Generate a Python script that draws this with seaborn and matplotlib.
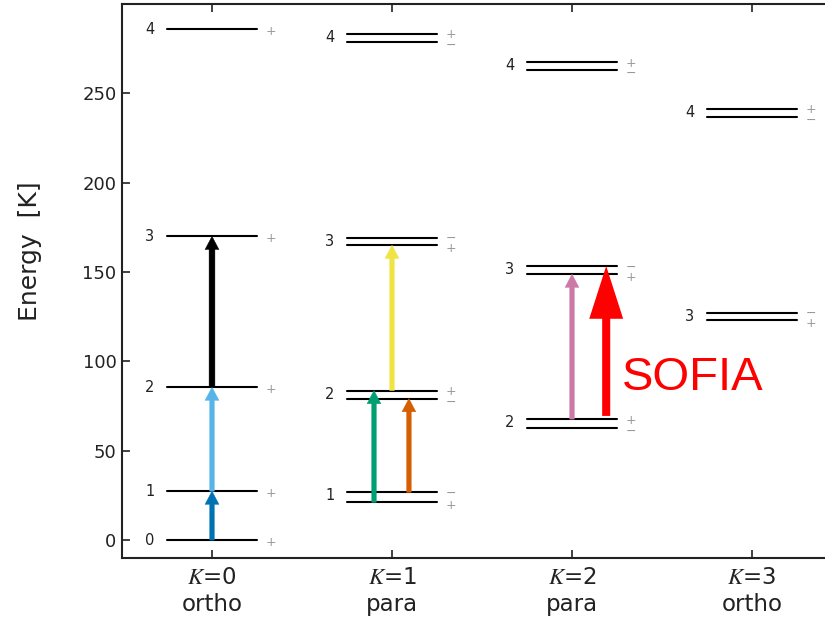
import matplotlib
matplotlib.use("Agg")
import matplotlib.pyplot as plt
import pandas as pd
import seaborn as sns

# NH3 rotational ladders: energy above ground state in K
ladder_K = [0, 1, 2, 3]
ladder_names = ["ortho", "para", "para", "ortho"]

# K = 0 has a single inversion state per J
k0_J = [0, 1, 2, 3, 4]
k0_E = [0.0, 27.4, 85.6, 170.0, 285.8]
k0_sign = ["+", "+", "+", "+", "+"]

# K > 0 ladders are inversion doublets (upper / lower)
k1_J = [1, 2, 3, 4]
k1_upper = [26.7, 83.7, 169.3, 283.4]
k1_lower = [21.1, 79.2, 165.0, 279.0]
k1_sign_upper = ["−", "+", "−", "+"]
k1_sign_lower = ["+", "−", "+", "−"]

k2_J = [2, 3, 4]
k2_upper = [67.7, 153.4, 267.5]
k2_lower = [63.0, 148.8, 263.0]
k2_sign_upper = ["+", "−", "+"]
k2_sign_lower = ["−", "+", "−"]

k3_J = [3, 4]
k3_upper = [127.3, 241.4]
k3_lower = [123.0, 237.0]
k3_sign_upper = ["−", "+"]
k3_sign_lower = ["+", "−"]

# Transitions: ladder, (J, state) of lower and upper level
trans_K = [0, 0, 0, 1, 1, 1, 2]
trans_lo = [(0, "s"), (1, "s"), (2, "s"), (1, "l"), (1, "u"), (2, "u"), (2, "u")]
trans_hi = [(1, "s"), (2, "s"), (3, "s"), (2, "u"), (2, "l"), (3, "l"), (3, "l")]
trans_colors = ["#0072B2", "#56B4E9", "#000000", "#009E73", "#D55E00", "#F0E442", "#CC79A7"]

# Line observed with SOFIA
sofia_K = 2
sofia_lo = (2, "u")
sofia_hi = (3, "u")

# ---- assemble level table -------------------------------------------------
rows = []
for J, E, s in zip(k0_J, k0_E, k0_sign):
    rows.append(dict(K=0, J=J, state="s", E=E, sign=s))
for K, Js, up, lo, su, sl in [
    (1, k1_J, k1_upper, k1_lower, k1_sign_upper, k1_sign_lower),
    (2, k2_J, k2_upper, k2_lower, k2_sign_upper, k2_sign_lower),
    (3, k3_J, k3_upper, k3_lower, k3_sign_upper, k3_sign_lower),
]:
    for J, eu, el, a, b in zip(Js, up, lo, su, sl):
        rows.append(dict(K=K, J=J, state="u", E=eu, sign=a))
        rows.append(dict(K=K, J=J, state="l", E=el, sign=b))
levels = pd.DataFrame(rows)
energy = {(r.K, r.J, r.state): r.E for r in levels.itertuples()}

half = 0.25
segs = []
for i, r in enumerate(levels.itertuples()):
    segs.append(dict(seg=i, x=r.K - half, E=r.E))
    segs.append(dict(seg=i, x=r.K + half, E=r.E))
segs = pd.DataFrame(segs)

# ---- figure ---------------------------------------------------------------
sns.set_theme(style="ticks")
plt.rcParams.update({
    "font.family": ["DejaVu Sans"],
    "mathtext.fontset": "stix",
    "axes.edgecolor": "#222222",
    "axes.linewidth": 1.5,
    "xtick.direction": "in",
    "ytick.direction": "in",
    "xtick.top": True,
    "ytick.right": True,
})

fig = plt.figure(figsize=(8.25, 6.2), dpi=100)
ax = fig.add_axes([122 / 825, 62 / 620, 720 / 825, 554 / 620])

sns.lineplot(data=segs, x="x", y="E", units="seg", estimator=None,
             color="black", lw=1.5, sort=False, legend=False, ax=ax)

# J labels and parity signs
sign_shift = {"s": -1.2, "u": -0.6, "l": -2.0}
for r in levels.itertuples():
    if r.state != "l":
        jy = r.E if r.state == "s" else r.E - 2.0
        ax.text(r.K - 0.345, jy, str(r.J), ha="center", va="center",
                fontsize=10.5, color="#222222")
    ax.text(r.K + 0.33, r.E + sign_shift[r.state], r.sign, ha="center",
            va="center", fontsize=9, color="#999999")

# transition arrows
for K, lo, hi, c in zip(trans_K, trans_lo, trans_hi, trans_colors):
    dx = 0.0
    if K == 1 and lo[0] == 1:
        dx = -0.1 if lo[1] == "l" else 0.094
    y0 = energy[(K, lo[0], lo[1])]
    y1 = energy[(K, hi[0], hi[1])]
    tw = 0.42 if c == "#000000" else 0.33
    ax.annotate("", xy=(K + dx, y1), xytext=(K + dx, y0),
                arrowprops=dict(arrowstyle=f"simple,head_width=1.0,head_length=0.95,tail_width={tw}",
                                mutation_scale=10, color=c, lw=0.3,
                                shrinkA=0, shrinkB=0))

# SOFIA line
ys0 = energy[(sofia_K, sofia_lo[0], sofia_lo[1])] + 1.8
ys1 = energy[(sofia_K, sofia_hi[0], sofia_hi[1])]
ax.annotate("", xy=(sofia_K + 0.19, ys1), xytext=(sofia_K + 0.19, ys0),
            arrowprops=dict(arrowstyle="simple,head_width=1.22,head_length=1.9,tail_width=0.29",
                            mutation_scale=20, color="#ff0000", lw=0,
                            shrinkA=0, shrinkB=0))
ax.text(sofia_K + 0.278, 91.0, "SOFIA", color="#ff0000", fontsize=34,
        family=["Liberation Sans", "DejaVu Sans"], ha="left", va="center")

# axes
ax.set_xlim(-0.5, 3.5)
ax.set_ylim(-10, 300)
ax.set_xticks(ladder_K)
ax.set_xticklabels([f"$K$={k}\n{n}" for k, n in zip(ladder_K, ladder_names)],
                   fontsize=16.5)
ax.set_yticks([0, 50, 100, 150, 200, 250])
ax.tick_params(axis="y", labelsize=13, length=6, width=1.2, colors="#222222", pad=4)
ax.tick_params(axis="x", length=6, width=1.2, colors="#222222", pad=6)
ax.set_xlabel("")
ax.set_ylabel("Energy  [K]", fontsize=18, color="#222222")
ax.yaxis.set_label_coords(-0.111, 0.553)

fig.savefig("out.png", dpi=100)
